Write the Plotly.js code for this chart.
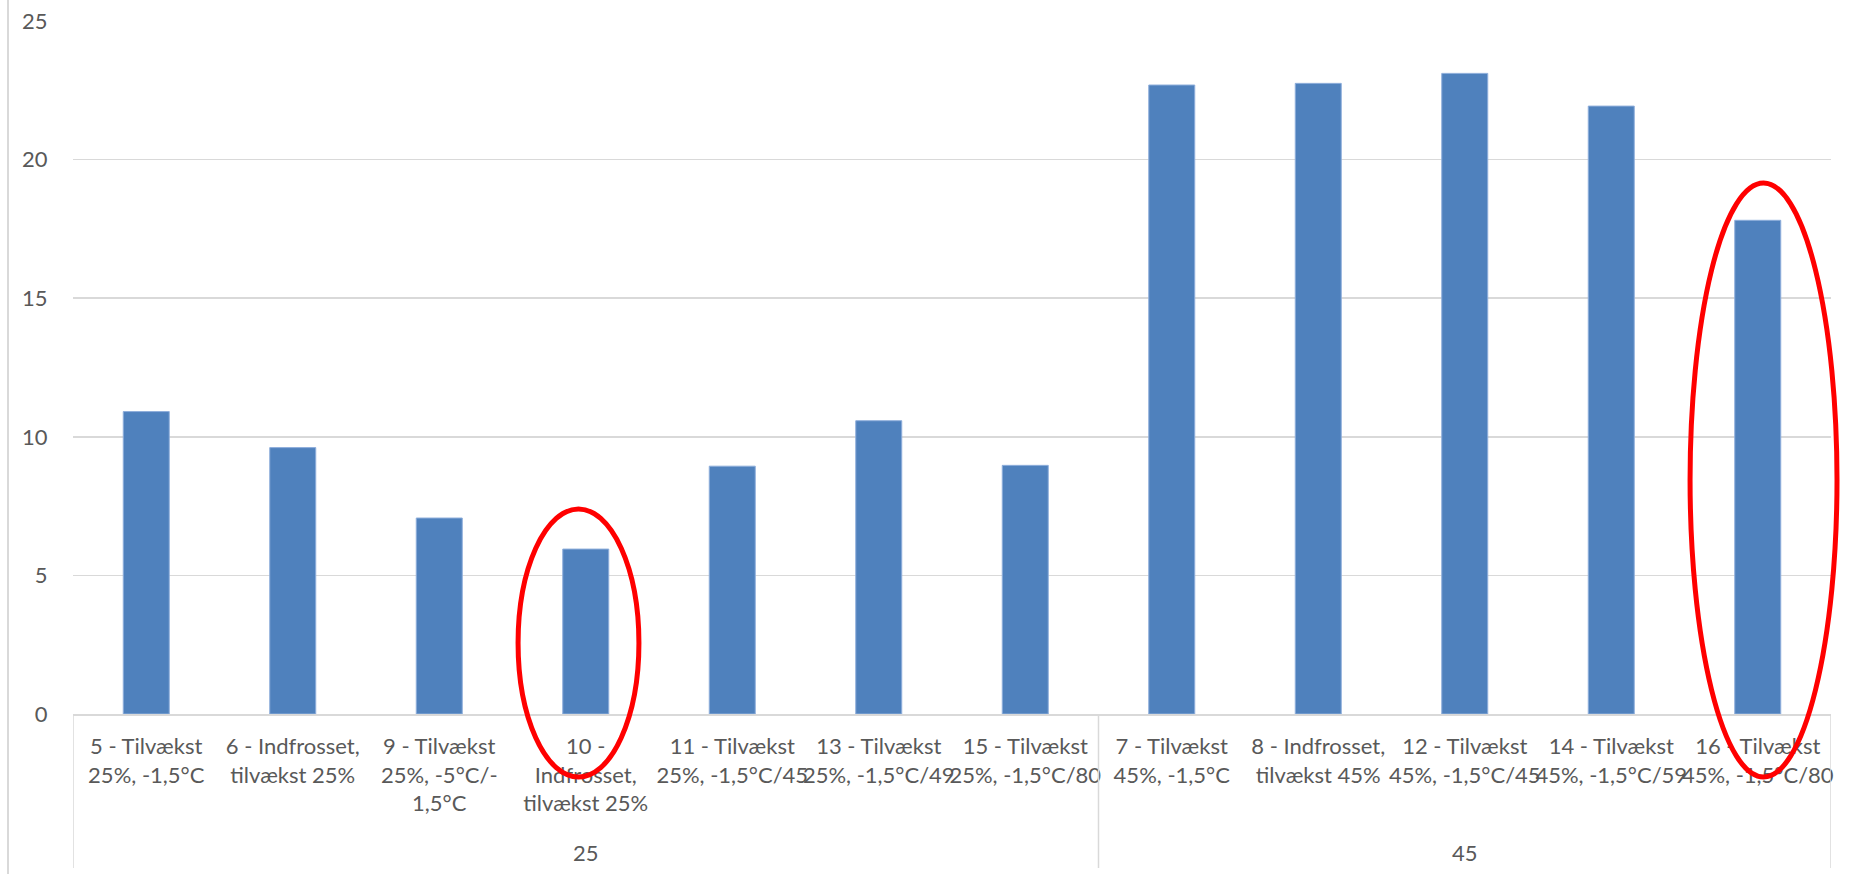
<!DOCTYPE html>
<html>
<head>
<meta charset="utf-8">
<script src="https://cdn.plot.ly/plotly-3.0.1.min.js"></script>
<style>
  html, body { margin: 0; padding: 0; background: #ffffff; }
  #chart { width: 1851px; height: 874px; }
</style>
</head>
<body>
<div id="chart"></div>
<script>
// Group labels (outer level of the category axis)
const groups = ["25", "45"];

// Test series per group (inner level of the category axis)
const labels25 = [
  "5 - Tilvækst<br>25%, -1,5°C",
  "6 - Indfrosset,<br>tilvækst 25%",
  "9 - Tilvækst<br>25%, -5°C/-<br>1,5°C",
  "10 -<br>Indfrosset,<br>tilvækst 25%",
  "11 - Tilvækst<br>25%, -1,5°C/45",
  "13 - Tilvækst<br>25%, -1,5°C/49",
  "15 - Tilvækst<br>25%, -1,5°C/80"
];
const labels45 = [
  "7 - Tilvækst<br>45%, -1,5°C",
  "8 - Indfrosset,<br>tilvækst 45%",
  "12 - Tilvækst<br>45%, -1,5°C/45",
  "14 - Tilvækst<br>45%, -1,5°C/59",
  "16 - Tilvækst<br>45%, -1,5°C/80"
];

// Measured values
const values25 = [10.91, 9.61, 7.07, 5.95, 8.94, 10.58, 8.97];
const values45 = [22.69, 22.75, 23.11, 21.93, 17.81];

// Series that are circled in red
const highlighted = ["10 -<br>Indfrosset,<br>tilvækst 25%", "16 - Tilvækst<br>45%, -1,5°C/80"];

const categories = labels25.concat(labels45);
const values = values25.concat(values45);
const N = categories.length;

// Plot geometry (pixels)
const W = 1851, H = 874;
const M = { l: 73, r: 20, t: 21, b: 160 };
const plotW = W - M.l - M.r;
const plotH = H - M.t - M.b;
const py = p => (H - M.b - p) / plotH;          // pixel row -> paper y
const px = p => (p - M.l) / plotW;               // pixel column -> paper x
// category index (axis range [-0.5, N-0.5]) -> paper x, so rings are not clipped
const catToPaper = v => (v + 0.5) / N;

const gray = "#d9d9d9";
const textGray = "#595959";
const font = "Lato, 'Open Sans', sans-serif";

const trace = {
  type: "bar",
  x: categories,
  y: values,
  marker: { color: "#4f81bd", line: { color: "#8eaedb", width: 1 } },
  hoverinfo: "x+y"
};

// Group boundaries in category index units
const bounds = [-0.5, labels25.length - 0.5, N - 0.5];
const groupCenters = [
  (labels25.length - 1) / 2,
  labels25.length + (labels45.length - 1) / 2
];

const shapes = [];
// outer chart edge on the left
shapes.push({
  type: "line", xref: "paper", yref: "paper",
  x0: px(8), x1: px(8), y0: py(0), y1: py(H),
  line: { color: gray, width: 2 }
});
// category box dividers
bounds.forEach(b => shapes.push({
  type: "line", xref: "x", yref: "paper",
  x0: b, x1: b, y0: 0, y1: py(868),
  line: { color: gray, width: 1.5 }
}));
// red rings around the highlighted series
const ringSpec = [
  { dx0: -0.462, dx1: 0.363, top: 509, bottom: 777 },
  { dx0: -0.462, dx1: 0.541, top: 183, bottom: 777 }
];
highlighted.forEach((name, k) => {
  const i = categories.indexOf(name);
  const s = ringSpec[k];
  shapes.push({
    type: "circle", xref: "paper", yref: "paper",
    x0: catToPaper(i + s.dx0), x1: catToPaper(i + s.dx1),
    y0: py(s.bottom), y1: py(s.top),
    line: { color: "#ff0000", width: 5 }, layer: "above"
  });
});

const annotations = groups.map((g, k) => ({
  text: g, xref: "x", yref: "paper",
  x: groupCenters[k], y: py(852),
  xanchor: "center", yanchor: "middle", showarrow: false,
  font: { family: font, size: 22, color: textGray }
}));

const layout = {
  width: W, height: H,
  margin: M,
  paper_bgcolor: "#ffffff",
  plot_bgcolor: "#ffffff",
  showlegend: false,
  bargap: 0.686,
  font: { family: font, size: 22, color: textGray },
  xaxis: {
    type: "category",
    range: [-0.5, N - 0.5],
    showline: true, linecolor: gray, linewidth: 1.5,
    showgrid: false, zeroline: false,
    ticks: "outside", ticklen: 12, tickcolor: "rgba(0,0,0,0)",
    tickangle: 0,
    tickfont: { family: font, size: 22, color: textGray }
  },
  yaxis: {
    range: [0, 25], dtick: 5, tick0: 0,
    showgrid: true, gridcolor: gray, gridwidth: 1.5,
    zeroline: false, showline: false,
    ticks: "outside", ticklen: 20, tickcolor: "rgba(0,0,0,0)",
    tickfont: { family: font, size: 22, color: textGray }
  },
  shapes: shapes,
  annotations: annotations
};

Plotly.newPlot("chart", [trace], layout, { displayModeBar: false, staticPlot: true });
</script>
</body>
</html>
